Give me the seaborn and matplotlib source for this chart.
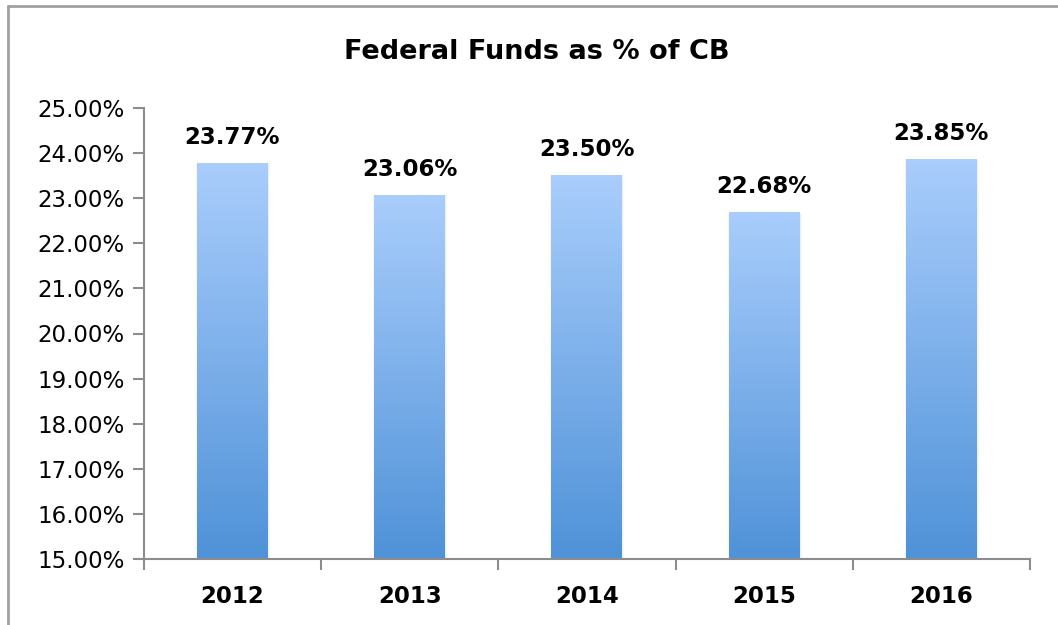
import numpy as np
import pandas as pd
import matplotlib
matplotlib.use("Agg")
import matplotlib.pyplot as plt
import matplotlib.colors as mcolors
from matplotlib.lines import Line2D
from matplotlib.ticker import FixedLocator
import seaborn as sns

years = ["2012", "2013", "2014", "2015", "2016"]
share = [23.77, 23.06, 23.50, 22.68, 23.85]
y_ticks = [15, 16, 17, 18, 19, 20, 21, 22, 23, 24, 25]

df = pd.DataFrame({"year": years, "share": share})

sns.set_style("white")
plt.rcParams["font.family"] = ["DejaVu Sans"]
plt.rcParams["text.color"] = "black"
plt.rcParams["xtick.color"] = "black"
plt.rcParams["ytick.color"] = "black"

fig = plt.figure(figsize=(10.58, 6.25), dpi=100)
ax = fig.add_axes([0.136, 0.1056, 0.8375, 0.7216])

sns.barplot(data=df, x="year", y="share", ax=ax, width=0.4,
            color="#7fb0ea", edgecolor="none", saturation=1)

ax.set_ylim(15, 25)

# vertical gradient per bar, light at top, darker at bottom
grad_cmap = mcolors.LinearSegmentedColormap.from_list("g", ["#4f92d8", "#a9cdfc"])
grad = np.linspace(0, 1, 256).reshape(-1, 1)
for p in list(ax.patches):
    x0, w = p.get_x(), p.get_width()
    y0, h = p.get_y(), p.get_height()
    # soft shadow
    ax.bar(x0 + w / 2, h, width=w * 1.03, bottom=y0, color="#000000", alpha=0.06,
           zorder=1.5)
    ax.imshow(grad, extent=[x0, x0 + w, 15, y0 + h], origin="lower",
              aspect="auto", cmap=grad_cmap, zorder=2)
    p.set_visible(False)

ax.set_xlim(-0.5, len(years) - 0.5)
ax.set_ylim(15, 25)

for i, v in enumerate(share):
    ax.text(i, v + 0.32, f"{v:.2f}%", ha="center", va="bottom",
            fontsize=16.5, fontweight="bold", color="black")

ax.set_yticks(y_ticks)
ax.set_yticklabels([f"{t:.2f}%" for t in y_ticks], fontsize=16.5, color="black")
ax.set_xticks(range(len(years)))
ax.set_xticklabels(years, fontsize=16.5, fontweight="bold", color="black")
ax.tick_params(axis="x", which="major", length=0, pad=19)
ax.tick_params(axis="y", length=8, width=1.5, color="#8c8c8c", pad=6, left=True)

# x-axis boundary ticks
ax.xaxis.set_minor_locator(FixedLocator(np.arange(-0.5, len(years), 1.0)))
ax.tick_params(axis="x", which="minor", length=8, width=1.5, color="#8c8c8c",
               bottom=True)

for s in ["top", "right"]:
    ax.spines[s].set_visible(False)
for s in ["left", "bottom"]:
    ax.spines[s].set_color("#8c8c8c")
    ax.spines[s].set_linewidth(1.5)
ax.set_xlabel("")
ax.set_ylabel("")

fig.text(0.507, 0.917, "Federal Funds as % of CB", ha="center", va="center",
         fontsize=19.5, fontweight="heavy", color="black")

# outer frame (left and top edges visible)
fig.add_artist(Line2D([0.0076, 0.0076], [0, 0.99], transform=fig.transFigure,
                      color="#a0a0a0", lw=2))
fig.add_artist(Line2D([0.0076, 1.0], [0.99, 0.99], transform=fig.transFigure,
                      color="#a0a0a0", lw=2))

fig.savefig("out.png", dpi=100)
